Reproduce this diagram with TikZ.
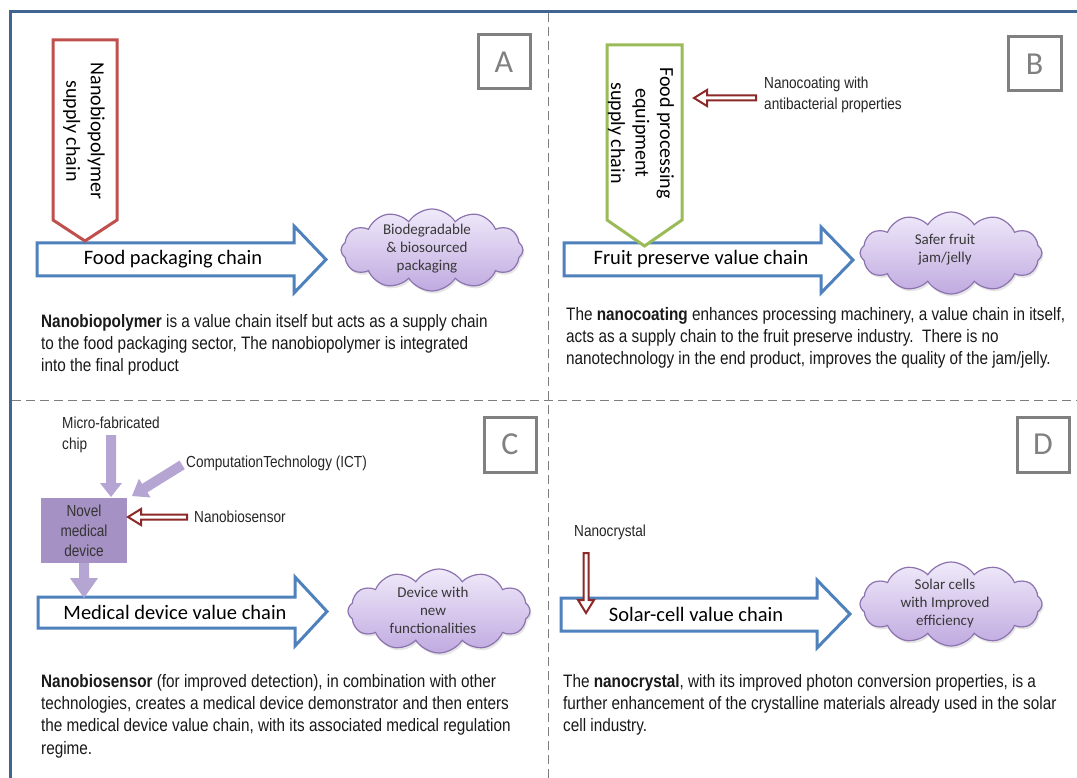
\documentclass[tikz,border=0pt]{standalone}
\usepackage{fontspec}
\setmainfont{Carlito}
\newfontfamily\nf[FakeStretch=0.85]{Liberation Sans}
\usetikzlibrary{shapes.symbols,shadows}
\definecolor{frameblue}{RGB}{65,100,145}
\definecolor{arrblue}{RGB}{79,129,189}
\definecolor{offred}{RGB}{192,80,77}
\definecolor{offgreen}{RGB}{155,187,89}
\definecolor{arrred}{RGB}{140,40,40}
\definecolor{lpurple}{RGB}{180,165,210}
\definecolor{mpurple}{RGB}{166,145,196}
\definecolor{cloudtop}{RGB}{240,234,250}
\definecolor{cloudbot}{RGB}{192,170,224}
\definecolor{cloudline}{RGB}{140,115,175}
\definecolor{divgray}{RGB}{125,125,125}
\definecolor{boxgray}{RGB}{128,128,128}
\tikzset{
  pics/harrow/.style={code={
    \draw[line width=2pt, draw=arrred, fill=white, line join=miter]
      (0,0) -- (-13,-8) -- (-13,-2.5) -- (-#1,-2.5) -- (-#1,2.5) -- (-13,2.5) -- (-13,8) -- cycle;}},
  pics/parrow/.style n args={4}{code={
    \fill[lpurple] (0,0) -- (-#4,-#3) -- (-#4,-#2) -- (-#1,-#2) -- (-#1,#2) -- (-#4,#2) -- (-#4,#3) -- cycle;}},
}
\begin{document}
\begin{tikzpicture}[x=1pt,y=-1pt,
  body/.style={anchor=north west, inner sep=0pt, align=left, font=\nf\fontsize{18}{22.3}\selectfont, text=black!90},
  small/.style={inner sep=0pt, align=left, font=\nf\fontsize{16}{21}\selectfont, text=black!85},
  chainlbl/.style={inner sep=0pt, font=\fontsize{20.5}{24}\selectfont},
  supplylbl/.style={inner sep=0pt, align=center, rotate=-90, font=\fontsize{20}{24.5}\selectfont},
  bigarrow/.style={draw=arrblue, line width=3pt, fill=white, line join=miter},
  pentagon/.style={line width=3pt, fill=white, line join=miter},
  cloudst/.style={cloud, cloud puffs=12, cloud puff arc=115, cloud ignores aspect, draw=cloudline, line width=1.2pt, top color=cloudtop, bottom color=cloudbot, minimum width=182pt, minimum height=82pt, inner sep=0pt, drop shadow={opacity=0.2, shadow xshift=1.5pt, shadow yshift=-2.5pt}},
  cloudtxt/.style={inner sep=0pt, align=center, font=\fontsize{15}{18}\selectfont, text=black!78},
  letterbox/.style={draw=boxgray, line width=3pt, text=boxgray, minimum width=52pt, minimum height=54pt, inner sep=0pt, font=\fontsize{32}{32}\selectfont},
  divider/.style={draw=divgray, line width=1pt, dash pattern=on 9pt off 5pt},
]
\useasboundingbox (0,0) rectangle (1077,778);
\fill[white] (0,0) rectangle (1077,778);
% frame and dividers
\draw[divider] (548,13) -- (548,778);
\draw[divider] (12,400) -- (1077,400);
\draw[draw=frameblue, line width=3pt] (10.7,778) -- (10.7,11.5) -- (1077,11.5);

% ---------- Panel A ----------
\node[letterbox] (boxA) at (504,62) {A};
\draw[bigarrow] (37,243) -- (294,243) -- (294,226) -- (326,259.5) -- (294,293) -- (294,276) -- (37,276) -- cycle;
\node[chainlbl] (chainA) at (173,259) {Food packaging chain};
\draw[pentagon, draw=offred] (53,40) -- (117,40) -- (117,220) -- (85,241) -- (53,220) -- cycle;
\node[supplylbl] (supA) at (84,131) {Nanobiopolymer\\supply chain};
\node[cloudst] (cloudA) at (432,250) {};
\node[cloudtxt] (ctA) at (427,249) {Biodegradable\\\& biosourced\\packaging};
\node[body] (bodyA) at (41,314) {\textbf{Nanobiopolymer} is a value chain itself but acts as a supply chain\\to the food packaging sector, The nanobiopolymer is integrated\\into the final product};

% ---------- Panel B ----------
\node[letterbox, minimum width=53pt] (boxB) at (1034.5,64) {B};
\draw[bigarrow] (564,243) -- (821,243) -- (821,227) -- (853,260) -- (821,293) -- (821,276) -- (564,276) -- cycle;
\node[chainlbl] (chainB) at (701,259) {Fruit preserve value chain};
\draw[pentagon, draw=offgreen] (607,45) -- (682,45) -- (682,220) -- (644.5,246) -- (607,220) -- cycle;
\node[supplylbl] (supB) at (641,133) {Food processing\\equipment\\supply chain};
\node[small, anchor=north west] (coat) at (764,77) {Nanocoating with\\antibacterial properties};
\pic[rotate=180] at (694,98) {harrow=62};
\node[cloudst] (cloudB) at (951,253) {};
\node[cloudtxt] (ctB) at (945,250) {Safer fruit\\jam/jelly};
\node[body] (bodyB) at (566,307) {The \textbf{nanocoating} enhances processing machinery, a value chain in itself,\\acts as a supply chain to the fruit preserve industry.\ \ There is no\\nanotechnology in the end product, improves the quality of the jam/jelly.};

% ---------- Panel C ----------
\node[letterbox, minimum height=55pt] (boxC) at (510,444.5) {C};
\node[small, anchor=north west] (chip) at (62,417) {Micro-fabricated\\chip};
\node[small, anchor=west] (ict) at (186,463) {ComputationTechnology (ICT)};
\node[small, anchor=west] (nbs) at (194,517) {Nanobiosensor};
\node[draw=none, fill=mpurple, minimum width=86pt, minimum height=65pt, inner sep=0pt, align=center, font=\nf\fontsize{16}{20}\selectfont, text=black!80] (dev) at (84,530.5) {Novel\\medical\\device};
\pic[rotate=-90] at (111,497) {parrow={62}{5}{11}{14}};
\pic[rotate=211.8] at (132,496) {parrow={59}{5}{11}{15}};
\pic[rotate=180] at (128,517) {harrow=59};
\draw[bigarrow] (38,597) -- (295,597) -- (295,577) -- (327,611.5) -- (295,646) -- (295,628) -- (38,628) -- cycle;
\pic[rotate=-90] at (84,598) {parrow={35}{5}{14}{20}};
\node[chainlbl] (chainC) at (175,612) {Medical device value chain};
\node[cloudst, minimum height=84pt] (cloudC) at (439,611) {};
\node[cloudtxt] (ctC) at (433,610) {Device with\\new\\functionalities};
\node[body] (bodyC) at (41,674) {\textbf{Nanobiosensor} (for improved detection), in combination with other\\technologies, creates a medical device demonstrator and then enters\\the medical device value chain, with its associated medical regulation\\regime.};

% ---------- Panel D ----------
\node[letterbox, minimum height=55pt] (boxD) at (1043,444.5) {D};
\node[small, anchor=west] (ncr) at (574,532) {Nanocrystal};
\draw[bigarrow] (561,598) -- (817,598) -- (817,580) -- (850,614) -- (817,648) -- (817,631) -- (561,631) -- cycle;
\pic[rotate=-90] at (586,613) {harrow=60};
\node[chainlbl] (chainD) at (696,614) {Solar-cell value chain};
\node[cloudst, minimum height=84pt] (cloudD) at (951,604) {};
\node[cloudtxt] (ctD) at (945,603) {Solar cells\\with Improved\\efficiency};
\node[body] (bodyD) at (563,674) {The \textbf{nanocrystal}, with its improved photon conversion properties, is a\\further enhancement of the crystalline materials already used in the solar\\cell industry.};
\end{tikzpicture}
\end{document}
